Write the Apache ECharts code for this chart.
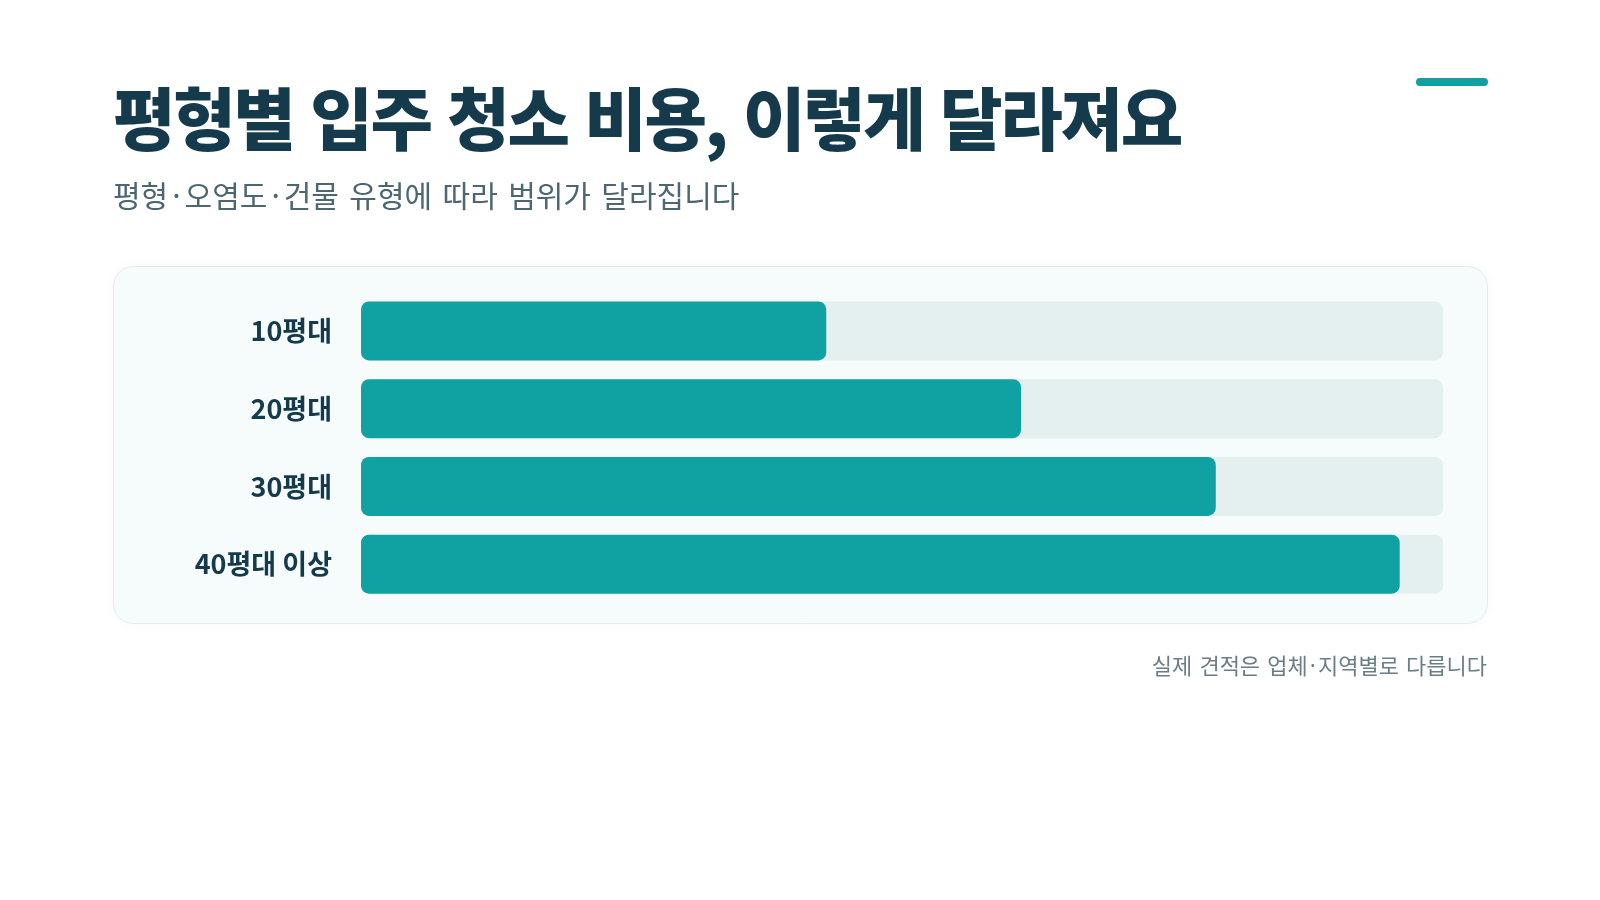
<!DOCTYPE html>
<html lang="ko">
<head>
<meta charset="utf-8">
<title>평형별 입주 청소 비용</title>
<script src="https://cdn.jsdelivr.net/npm/echarts@6/dist/echarts.min.js"></script>
<style>
  html, body { margin: 0; padding: 0; background: #ffffff; }
  #page { position: relative; width: 1600px; height: 900px; overflow: hidden; }
  #chart { position: absolute; left: 0; top: 0; width: 1600px; height: 900px; }
  .txt { position: absolute; font-family: "Noto Sans CJK KR", sans-serif; white-space: nowrap; margin: 0; line-height: 1.4; }
  #title { left: 113px; top: 68px; font-size: 68px; font-weight: 900; color: #143a4c; letter-spacing: -0.035em; }
  #sub { left: 113px; top: 173px; font-size: 30px; font-weight: 400; color: #4d6772; word-spacing: 2px; }
  #sub .dot { margin: 0 4px; }
  #note { right: 113px; top: 649px; font-size: 22px; font-weight: 400; color: #6b7e87; word-spacing: 1px; }
  #note .dot { margin: 0 2px; }
</style>
</head>
<body>
<div id="page">
  <div id="chart"></div>
  <h1 class="txt" id="title">평형별 입주 청소 비용, 이렇게 달라져요</h1>
  <p class="txt" id="sub">평형<span class="dot">·</span>오염도<span class="dot">·</span>건물 유형에 따라 범위가 달라집니다</p>
  <p class="txt" id="note">실제 견적은 업체<span class="dot">·</span>지역별로 다릅니다</p>
</div>
<script>
// 평형 구간
var categories = ["10평대", "20평대", "30평대", "40평대 이상"];
// 상대 비용 (트랙 최대 = 100)
var costValues = [43, 61, 79, 96];
var valueMax = 100;

var teal = "#10a2a2";
var navy = "#143a4c";

var chart = echarts.init(document.getElementById("chart"), null, { renderer: "canvas" });

var option = {
	animation: false,
	backgroundColor: "#ffffff",
	grid: {
		left: 361,
		right: 157,
		top: 292,
		height: 311,
		containLabel: false
	},
	xAxis: {
		type: "value",
		min: 0,
		max: valueMax,
		show: false
	},
	yAxis: {
		type: "category",
		data: categories,
		inverse: true,
		axisLine: { show: false },
		axisTick: { show: false },
		splitLine: { show: false },
		axisLabel: {
			margin: 29,
			color: navy,
			fontSize: 27,
			fontWeight: "bold",
			fontFamily: "Noto Sans CJK KR",
			padding: [3, 0, 0, 0]
		}
	},
	graphic: [
		{
			// 카드 배경
			type: "rect",
			z: -10,
			shape: { x: 113.5, y: 266.5, width: 1374, height: 357, r: 20 },
			style: { fill: "#f6fbfb", stroke: "#e2eded", lineWidth: 1, shadowBlur: 12, shadowColor: "rgba(20,58,76,0.04)" }
		},
		{
			// 상단 장식 바
			type: "rect",
			shape: { x: 1416, y: 78, width: 72, height: 8, r: 4 },
			style: { fill: teal }
		}
	],
	series: [
		{
			type: "bar",
			data: costValues,
			barWidth: 59,
			showBackground: true,
			backgroundStyle: {
				color: "#e4f0f0",
				borderRadius: 8
			},
			itemStyle: {
				color: teal,
				borderRadius: 8
			},
			label: { show: false }
		}
	]
};

chart.setOption(option);
</script>
</body>
</html>
